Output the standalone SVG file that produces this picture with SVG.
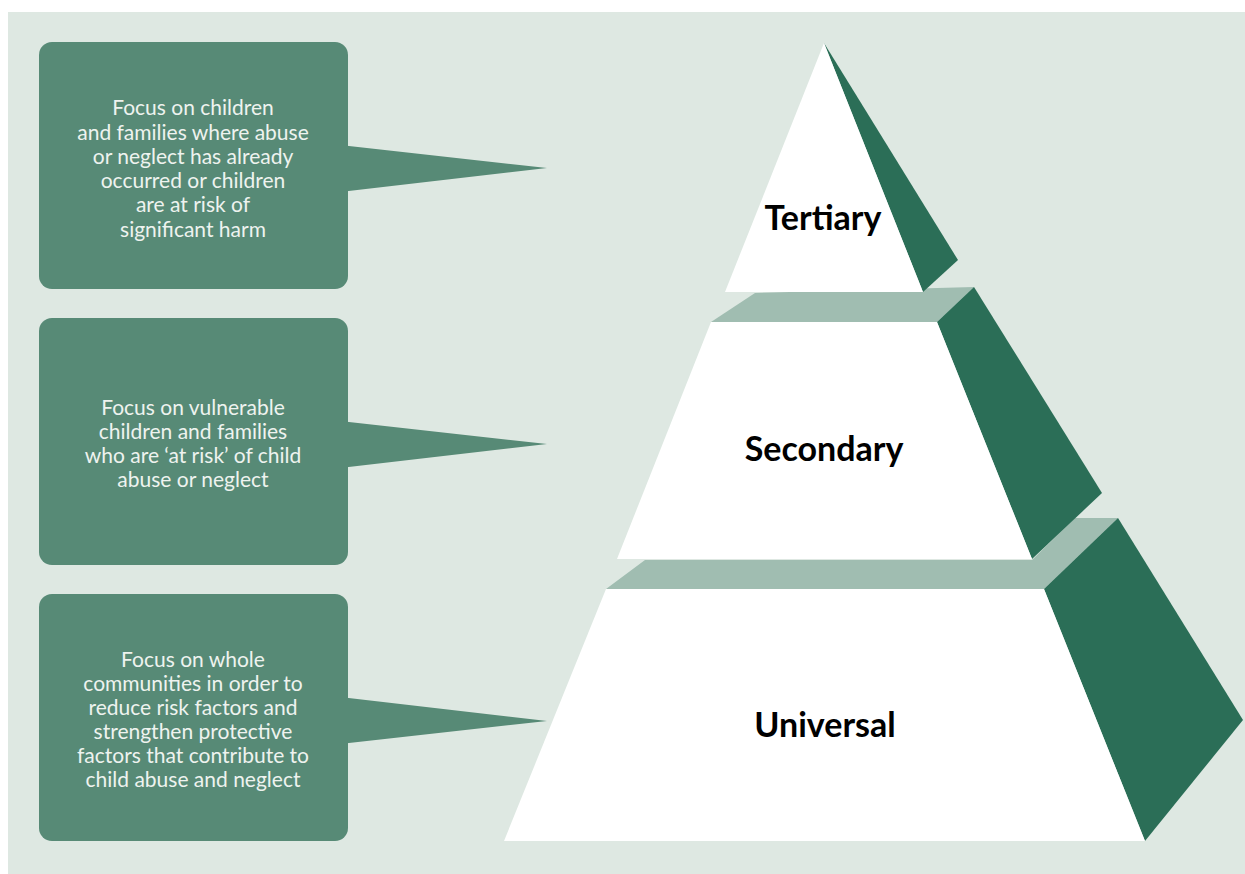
<svg xmlns="http://www.w3.org/2000/svg" width="1245" height="874" viewBox="0 0 1245 874">
<style>
.box{fill:#578a76}
.ptr{fill:#578a76}
.front{fill:#ffffff}
.side{fill:#2b6e57}
.slab{fill:#a0bdb1}
.desc{font-family:Lato,"Open Sans","Liberation Sans",sans-serif;font-size:21px;fill:#eef3ef;text-anchor:middle}
.tier{font-family:Lato,"Liberation Sans",sans-serif;font-weight:bold;font-size:34px;fill:#000;text-anchor:middle}
</style>
<rect x="8" y="12" width="1237" height="862" fill="#dee8e2"/>
<g id="connectors">
<polygon class="ptr" points="340,145 547,168 340,192"/>
<polygon class="ptr" points="340,421 547,444 340,468"/>
<polygon class="ptr" points="340,697 547,721 340,744"/>
</g>
<g id="box-tertiary">
<rect class="box" x="39" y="42" width="309" height="247" rx="13"/>
<text class="desc"><tspan x="193" y="115">Focus on children</tspan><tspan x="193" y="140">and families where abuse</tspan><tspan x="193" y="164">or neglect has already</tspan><tspan x="193" y="188">occurred or children</tspan><tspan x="193" y="212">are at risk of</tspan><tspan x="193" y="237">significant harm</tspan></text>
</g>
<g id="box-secondary">
<rect class="box" x="39" y="318" width="309" height="247" rx="13"/>
<text class="desc"><tspan x="193" y="415">Focus on vulnerable</tspan><tspan x="193" y="439">children and families</tspan><tspan x="193" y="463">who are ‘at risk’ of child</tspan><tspan x="193" y="487">abuse or neglect</tspan></text>
</g>
<g id="box-universal">
<rect class="box" x="39" y="594" width="309" height="247" rx="13"/>
<text class="desc"><tspan x="193" y="667">Focus on whole</tspan><tspan x="193" y="691">communities in order to</tspan><tspan x="193" y="715">reduce risk factors and</tspan><tspan x="193" y="739">strengthen protective</tspan><tspan x="193" y="763">factors that contribute to</tspan><tspan x="193" y="787">child abuse and neglect</tspan></text>
</g>
<g id="tier-universal">
<polygon class="slab" points="606,589 645,560 1032,560 1075,518 1118,518 1044,589"/>
<polygon class="side" points="1044,589 1118,518 1243,720 1145,841"/>
<polygon class="front" points="606,589 1044,589 1145,841 504,841"/>
<text class="tier" x="825" y="737">Universal</text>
</g>
<g id="tier-secondary">
<polygon class="slab" points="711,322 755,293 974,287 937,322"/>
<polygon class="side" points="937,322 974,287 1102,493 1032,559"/>
<polygon class="front" points="711,322 937,322 1032,559 617,559"/>
<text class="tier" x="824" y="461">Secondary</text>
</g>
<g id="tier-tertiary">
<polygon class="side" points="824,43 958,260 923,292"/>
<polygon class="front" points="824,43 923,292 725,292"/>
<text class="tier" x="823" y="230">Tertiary</text>
</g>
</svg>
